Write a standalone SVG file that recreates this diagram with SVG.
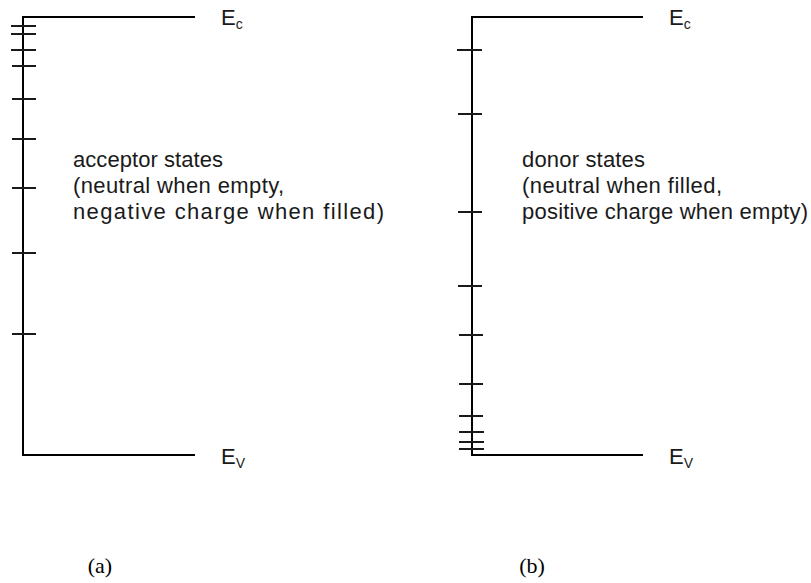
<svg xmlns="http://www.w3.org/2000/svg" width="811" height="583" viewBox="0 0 811 583">
<style>
.ax{stroke:#000;stroke-width:2;fill:none}
.tk{stroke:#1a1a1a;stroke-width:2}
.t{font-family:"Liberation Sans",Arial,sans-serif;font-size:22px;fill:#1a1a1a}
.lb{font-family:"Liberation Sans",Arial,sans-serif;font-size:22px;fill:#1a1a1a}
.sub{font-size:14px}
.cap{font-family:"Liberation Serif","Times New Roman",serif;font-size:22px;fill:#000}
</style>
<g id="diagram-a">
<path class="ax" d="M195,17 H23 V455 H195"/>
<g id="acceptor-ticks">
<line class="tk" x1="11" x2="36" y1="26" y2="26"/>
<line class="tk" x1="11" x2="36" y1="34" y2="34"/>
<line class="tk" x1="11" x2="36" y1="50" y2="50"/>
<line class="tk" x1="12" x2="36" y1="66" y2="66"/>
<line class="tk" x1="12" x2="36" y1="99" y2="99"/>
<line class="tk" x1="12" x2="36" y1="139" y2="139"/>
<line class="tk" x1="12" x2="36" y1="188" y2="188"/>
<line class="tk" x1="12" x2="36" y1="253" y2="253"/>
<line class="tk" x1="12" x2="36" y1="334" y2="334"/>
</g>
<text class="lb" x="221" y="25">E<tspan class="sub" dy="4">c</tspan></text>
<text class="lb" x="221" y="464">E<tspan class="sub" dy="4">V</tspan></text>
<text class="t" x="73" y="167" textLength="150" lengthAdjust="spacing">acceptor states</text>
<text class="t" x="73" y="193" textLength="211" lengthAdjust="spacing">(neutral when empty,</text>
<text class="t" x="73" y="219" textLength="311" lengthAdjust="spacing">negative charge when filled)</text>
<text class="cap" x="100" y="573" text-anchor="middle">(a)</text>
</g>
<g id="diagram-b">
<path class="ax" d="M643,17 H472 V455 H643"/>
<g id="donor-ticks">
<line class="tk" x1="457" x2="482" y1="50" y2="50"/>
<line class="tk" x1="458" x2="482" y1="114" y2="114"/>
<line class="tk" x1="458" x2="482" y1="212" y2="212"/>
<line class="tk" x1="458" x2="482" y1="286" y2="286"/>
<line class="tk" x1="459" x2="483" y1="335" y2="335"/>
<line class="tk" x1="459" x2="483" y1="384" y2="384"/>
<line class="tk" x1="459" x2="483" y1="416" y2="416"/>
<line class="tk" x1="459" x2="484" y1="432" y2="432"/>
<line class="tk" x1="459" x2="484" y1="442" y2="442"/>
<line class="tk" x1="459" x2="484" y1="449" y2="449"/>
</g>
<text class="lb" x="669" y="25">E<tspan class="sub" dy="4">c</tspan></text>
<text class="lb" x="669" y="464">E<tspan class="sub" dy="4">V</tspan></text>
<text class="t" x="522" y="167" textLength="123" lengthAdjust="spacing">donor states</text>
<text class="t" x="522" y="193" textLength="200" lengthAdjust="spacing">(neutral when filled,</text>
<text class="t" x="522" y="219" textLength="286" lengthAdjust="spacing">positive charge when empty)</text>
<text class="cap" x="532" y="573" text-anchor="middle">(b)</text>
</g>
</svg>
